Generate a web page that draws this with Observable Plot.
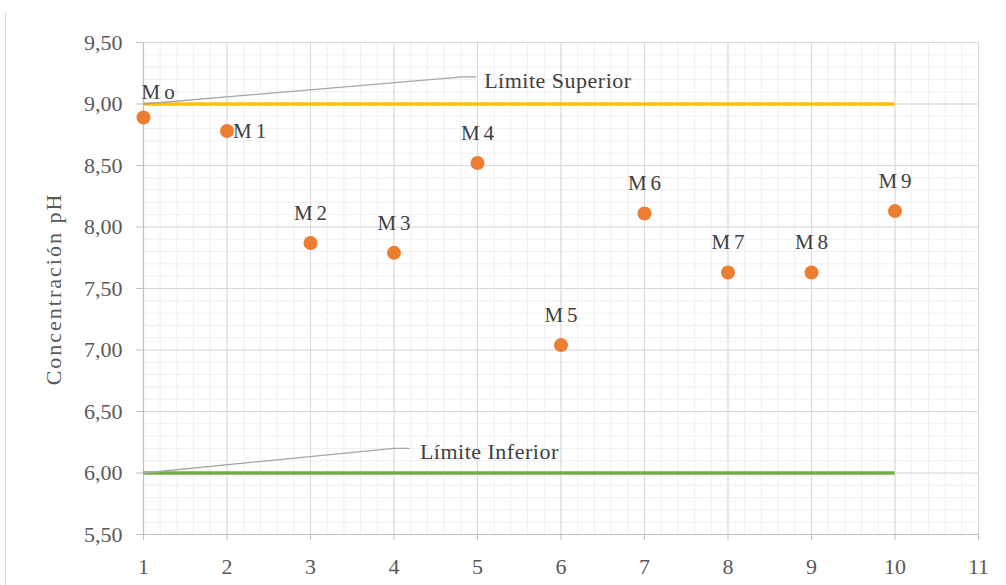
<!DOCTYPE html>
<html>
<head>
<meta charset="utf-8">
<script src="https://cdn.jsdelivr.net/npm/d3@7"></script>
<script src="https://cdn.jsdelivr.net/npm/@observablehq/plot@0.6"></script>
<style>
  body { margin: 0; background: #fff; }
  #chart { position: relative; width: 1006px; height: 585px; }
  #edge { position: absolute; left: 5px; top: 12px; width: 1px; height: 573px; background: #d9d9d9; }
  #chart svg { position: absolute; left: 0; top: 0; }
</style>
</head>
<body>
<div id="chart"><div id="edge"></div></div>
<script>
// pH measured at each sampling point
const muestras = ["Mo", "M1", "M2", "M3", "M4", "M5", "M6", "M7", "M8", "M9"];
const puntos = [1, 2, 3, 4, 5, 6, 7, 8, 9, 10];
const ph = [8.89, 8.78, 7.87, 7.79, 8.52, 7.04, 8.11, 7.63, 7.63, 8.13];

// permitted range
const limiteSuperior = 9.0;
const limiteInferior = 6.0;
const limiteDesde = 1;
const limiteHasta = 10;

// axis ticks
const xTicks = [1, 2, 3, 4, 5, 6, 7, 8, 9, 10, 11];
const yTicks = [5.5, 6.0, 6.5, 7.0, 7.5, 8.0, 8.5, 9.0, 9.5];

// callouts for the two limit lines: elbow and text anchor
const calloutSuperior = { texto: "Límite Superior", codo: [4.82, 9.22], fin: [4.98, 9.22], etiqueta: [5.08, 9.19] };
const calloutInferior = { texto: "Límite Inferior", codo: [4.0, 6.2], fin: [4.18, 6.2], etiqueta: [4.31, 6.17] };

const datos = muestras.map((m, i) => ({ m, x: puntos[i], ph: ph[i], i }));
const minorX = d3.range(0, 51).map(k => 1 + k * 0.2);
const minorY = d3.range(0, 41).map(k => +(5.5 + k * 0.1).toFixed(2));
const fmt = v => d3.format(".2f")(v).replace(".", ",");
const serif = "'Liberation Serif', 'Times New Roman', serif";

const leader = (c, y0) => [
  { x: limiteDesde, y: y0 },
  { x: c.codo[0], y: c.codo[1] },
  { x: c.fin[0], y: c.fin[1] }
];

const plot = Plot.plot({
  width: 1006,
  height: 585,
  marginLeft: 143,
  marginRight: 28,
  marginTop: 42,
  marginBottom: 51,
  style: { fontFamily: serif, fontSize: "22px", color: "#595959", background: "transparent" },
  x: { domain: [1, 11] },
  y: { domain: [5.5, 9.5] },
  marks: [
    Plot.ruleX(minorX, { stroke: "#efefef", strokeWidth: 1 }),
    Plot.ruleY(minorY, { stroke: "#efefef", strokeWidth: 1 }),
    Plot.ruleX(xTicks, { stroke: "#d9d9d9", strokeWidth: 1 }),
    Plot.ruleY(yTicks, { stroke: "#d9d9d9", strokeWidth: 1 }),
    Plot.ruleX([1], { stroke: "#bfbfbf", strokeWidth: 1.2 }),
    Plot.ruleY([5.5], { stroke: "#bfbfbf", strokeWidth: 1.2 }),
    Plot.axisY({ ticks: yTicks, tickFormat: fmt, tickSize: 7, tickPadding: 14, stroke: "#bfbfbf", fill: "#595959", label: null, fontSize: 22 }),
    Plot.axisX({ ticks: xTicks, tickFormat: d => String(d), tickSize: 6, tickPadding: 18, stroke: "#bfbfbf", fill: "#595959", label: null, fontSize: 22 }),
    // limit lines
    Plot.ruleY([limiteSuperior], { x1: limiteDesde, x2: limiteHasta, stroke: "#ffc000", strokeWidth: 3.5 }),
    Plot.ruleY([limiteInferior], { x1: limiteDesde, x2: limiteHasta, stroke: "#70ad47", strokeWidth: 3.5 }),
    // callouts
    Plot.line(leader(calloutSuperior, limiteSuperior), { x: "x", y: "y", stroke: "#a6a6a6", strokeWidth: 1.3 }),
    Plot.line(leader(calloutInferior, limiteInferior), { x: "x", y: "y", stroke: "#a6a6a6", strokeWidth: 1.3 }),
    Plot.text([calloutSuperior, calloutInferior], {
      x: d => d.etiqueta[0], y: d => d.etiqueta[1], text: "texto",
      textAnchor: "start", lineAnchor: "middle", fill: "#404040", fontSize: 22,
      className: "callout"
    }),
    // samples
    Plot.dot(datos, { x: "x", y: "ph", r: 7, fill: "#ed7d31", stroke: "none" }),
    Plot.text(datos.filter(d => d.i === 0), {
      x: "x", y: "ph", text: "m", textAnchor: "start", lineAnchor: "middle",
      dx: -2, dy: -25, fill: "#404040", fontSize: 21, className: "muestra"
    }),
    Plot.text(datos.filter(d => d.i === 1), {
      x: "x", y: "ph", text: "m", textAnchor: "start", lineAnchor: "middle",
      dx: 6, dy: 0, fill: "#404040", fontSize: 21, className: "muestra"
    }),
    Plot.text(datos.filter(d => d.i > 1), {
      x: "x", y: "ph", text: "m", textAnchor: "middle", lineAnchor: "middle",
      dx: 2, dy: -30, fill: "#404040", fontSize: 21, className: "muestra"
    }),
    // top/right frame edges
    Plot.ruleY([9.5], { stroke: "#d9d9d9", strokeWidth: 1.2 }),
    Plot.ruleX([11], { stroke: "#d9d9d9", strokeWidth: 1.2 })
  ]
});

// spacing of the label lettering
d3.select(plot).selectAll(".muestra text").style("letter-spacing", "4px");
d3.select(plot).selectAll(".callout text").style("letter-spacing", "0.5px");

// vertical axis title
d3.select(plot).append("text")
  .attr("transform", "translate(61,289) rotate(-90)")
  .attr("text-anchor", "middle")
  .attr("fill", "#595959")
  .style("font-family", serif)
  .style("font-size", "22px")
  .style("letter-spacing", "2px")
  .text("Concentración pH");

document.getElementById("chart").appendChild(plot);
</script>
</body>
</html>
